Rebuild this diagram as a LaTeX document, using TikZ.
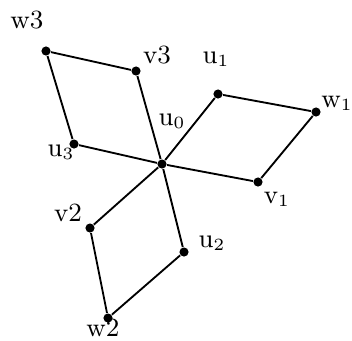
\documentclass[tikz,border=0pt]{standalone}
\begin{document}
\begin{tikzpicture}[x=0.35pt,y=-0.35pt,
  vtx/.style={circle,fill=black,inner sep=0pt,minimum size=3.2pt},
  lbl/.style={inner sep=0pt,font=\fontsize{9.2}{11}\selectfont},
  edge/.style={line width=0.65pt}]
\useasboundingbox (0,0) rectangle (352,340);
% vertices
\node[vtx] (u0) at (162,164) {};
\node[vtx] (u1) at (218,94) {};
\node[vtx] (w1) at (316,112) {};
\node[vtx] (v1) at (258,182) {};
\node[vtx] (u2) at (184,252) {};
\node[vtx] (w2) at (108,318) {};
\node[vtx] (v2) at (90,228) {};
\node[vtx] (u3) at (74,144) {};
\node[vtx] (w3) at (46,51) {};
\node[vtx] (v3) at (136,71) {};
% edges
\draw[edge] (u0) -- (u1) -- (w1) -- (v1) -- (u0);
\draw[edge] (u0) -- (u2) -- (w2) -- (v2) -- (u0);
\draw[edge] (u0) -- (u3) -- (w3) -- (v3) -- (u0);
% labels
\node[lbl] (lu0) at (172,121) {u$_0$};
\node[lbl] (lu1) at (216,59) {u$_1$};
\node[lbl] (lw1) at (337,103) {w$_1$};
\node[lbl] (lv1) at (277,199) {v$_1$};
\node[lbl] (lu2) at (212,243) {u$_2$};
\node[lbl] (lw2) at (103,328) {w2};
\node[lbl] (lv2) at (68,213) {v2};
\node[lbl] (lu3) at (61,152) {u$_3$};
\node[lbl] (lw3) at (27,20) {w3};
\node[lbl] (lv3) at (157,55) {v3};
\end{tikzpicture}
\end{document}
